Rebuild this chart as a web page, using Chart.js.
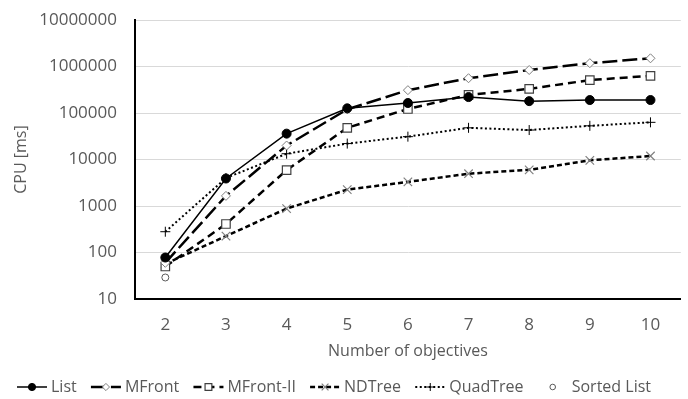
<!DOCTYPE html>
<html>
<head>
<meta charset="utf-8">
<script src="https://cdn.jsdelivr.net/npm/chart.js@4/dist/chart.umd.min.js"></script>
<style>
  html, body { margin: 0; padding: 0; background: #ffffff; }
  #wrap { width: 688px; height: 399px; }
</style>
</head>
<body>
<div id="wrap"><canvas id="cpuChart" width="688" height="399"></canvas></div>
<script>
// Number of objectives on the x axis
const objectives = ['2', '3', '4', '5', '6', '7', '8', '9', '10'];

// CPU time in milliseconds for each structure
const listCpu      = [78, 3900, 36000, 126000, 164000, 220000, 180000, 190000, 190000];
const mfrontCpu    = [60, 1650, 20000, 120000, 310000, 560000, 840000, 1180000, 1500000];
const mfront2Cpu   = [50, 410, 5900, 48000, 122000, 245000, 330000, 510000, 630000];
const ndtreeCpu    = [57, 225, 880, 2250, 3300, 4950, 6000, 9600, 11900];
const quadtreeCpu  = [280, 4000, 13300, 22000, 31000, 48000, 43000, 53000, 63000];
const sortedListCpu = [29, null, null, null, null, null, null, null, null];

// Decade ticks for the logarithmic axis
const cpuTicks = [10, 100, 1000, 10000, 100000, 1000000, 10000000];

const TEXT = '#595959';
const FONT = "'Open Sans', 'Noto Sans', sans-serif";

const datasets = [
  { label: 'List', data: listCpu, borderColor: '#000', borderWidth: 1.5, borderDash: [],
    pointStyle: 'circle', pointRadius: 4.5, pointBackgroundColor: '#000', pointBorderColor: '#000', pointBorderWidth: 1 },
  { label: 'MFront', data: mfrontCpu, borderColor: '#000', borderWidth: 2.5, borderDash: [15, 5],
    pointStyle: 'rectRot', pointRadius: 4.5, pointBackgroundColor: '#fff', pointBorderColor: '#7f7f7f', pointBorderWidth: 1 },
  { label: 'MFront-II', data: mfront2Cpu, borderColor: '#000', borderWidth: 2.5, borderDash: [8, 5],
    pointStyle: 'rect', pointRadius: 6, pointBackgroundColor: '#fff', pointBorderColor: '#404040', pointBorderWidth: 1.2 },
  { label: 'NDTree', data: ndtreeCpu, borderColor: '#000', borderWidth: 2.5, borderDash: [5, 3],
    pointStyle: 'crossRot', pointRadius: 6, pointBackgroundColor: '#fff', pointBorderColor: '#808080', pointBorderWidth: 1.2 },
  { label: 'QuadTree', data: quadtreeCpu, borderColor: '#000', borderWidth: 2, borderDash: [2, 2.5],
    pointStyle: 'cross', pointRadius: 5, pointBackgroundColor: '#fff', pointBorderColor: '#000', pointBorderWidth: 1 },
  { label: 'Sorted List', data: sortedListCpu, showLine: false, borderColor: '#595959', borderWidth: 1, borderDash: [],
    pointStyle: 'circle', pointRadius: 3.5, pointBackgroundColor: '#fff', pointBorderColor: '#595959', pointBorderWidth: 1 }
].map(d => Object.assign({ fill: false, tension: 0, spanGaps: false }, d));

// Legend row: spread entries evenly between these two x positions
const legendLeft = 17;
const legendRight = 651;
const legendY = 387;

const bottomLegend = {
  id: 'bottomLegend',
  afterDraw(chart) {
    const ctx = chart.ctx;
    const keyW = 30, textGap = 4;
    ctx.save();
    ctx.font = '16px ' + FONT;
    const sets = chart.data.datasets;
    const widths = sets.map(ds => keyW + textGap + ctx.measureText(ds.label).width);
    const total = widths.reduce((a, b) => a + b, 0);
    const gap = (legendRight - legendLeft - total) / (sets.length - 1);
    let x0 = legendLeft;
    sets.forEach((ds, i) => {
      const y = legendY;
      if (ds.showLine !== false) {
        ctx.beginPath();
        ctx.setLineDash(ds.borderDash || []);
        ctx.lineWidth = ds.borderWidth;
        ctx.strokeStyle = ds.borderColor;
        ctx.moveTo(x0, y);
        ctx.lineTo(x0 + keyW, y);
        ctx.stroke();
      }
      ctx.setLineDash([]);
      ctx.fillStyle = ds.pointBackgroundColor;
      ctx.strokeStyle = ds.pointBorderColor;
      ctx.lineWidth = ds.pointBorderWidth;
      Chart.helpers.drawPoint(ctx, {
        pointStyle: ds.pointStyle, radius: ds.pointRadius * 0.8, rotation: 0, borderWidth: ds.pointBorderWidth
      }, x0 + keyW / 2, y);
      ctx.fillStyle = TEXT;
      ctx.textAlign = 'left';
      ctx.textBaseline = 'middle';
      ctx.fillText(ds.label, x0 + keyW + textGap, y);
      x0 += widths[i] + gap;
    });
    ctx.restore();
  }
};

new Chart(document.getElementById('cpuChart'), {
  type: 'line',
  data: { labels: objectives, datasets },
  options: {
    responsive: false,
    animation: false,
    events: [],
    layout: { padding: { left: 0, right: 6, top: 20, bottom: 36 } },
    plugins: { legend: { display: false }, tooltip: { enabled: false } },
    scales: {
      x: {
        type: 'category',
        offset: true,
        grid: { display: false, drawTicks: false },
        border: { display: true, color: '#000', width: 2 },
        ticks: { color: TEXT, font: { family: FONT, size: 17 }, padding: 16, maxRotation: 0 },
        title: { display: true, text: 'Number of objectives', color: TEXT,
                 font: { family: FONT, size: 16 }, padding: { top: 0, bottom: 2 } },
        afterFit(scale) { scale.height = 64; }
      },
      y: {
        type: 'logarithmic',
        min: 10,
        max: 10000000,
        grid: { color: '#d9d9d9', lineWidth: 1, drawTicks: false },
        border: { display: true, color: '#000', width: 2 },
        ticks: { color: TEXT, font: { family: FONT, size: 17 }, padding: 18,
                 callback: v => String(v) },
        afterBuildTicks(scale) { scale.ticks = cpuTicks.map(v => ({ value: v })); },
        title: { display: true, text: 'CPU [ms]', color: TEXT,
                 font: { family: FONT, size: 16 }, padding: { top: 12, bottom: 0 } },
        afterFit(scale) {
          scale.width = 135;
          // only half a label height is needed above the top tick
          scale.paddingTop = 10;
          scale.paddingBottom = 10;
        }
      }
    }
  },
  plugins: [bottomLegend]
});
</script>
</body>
</html>
